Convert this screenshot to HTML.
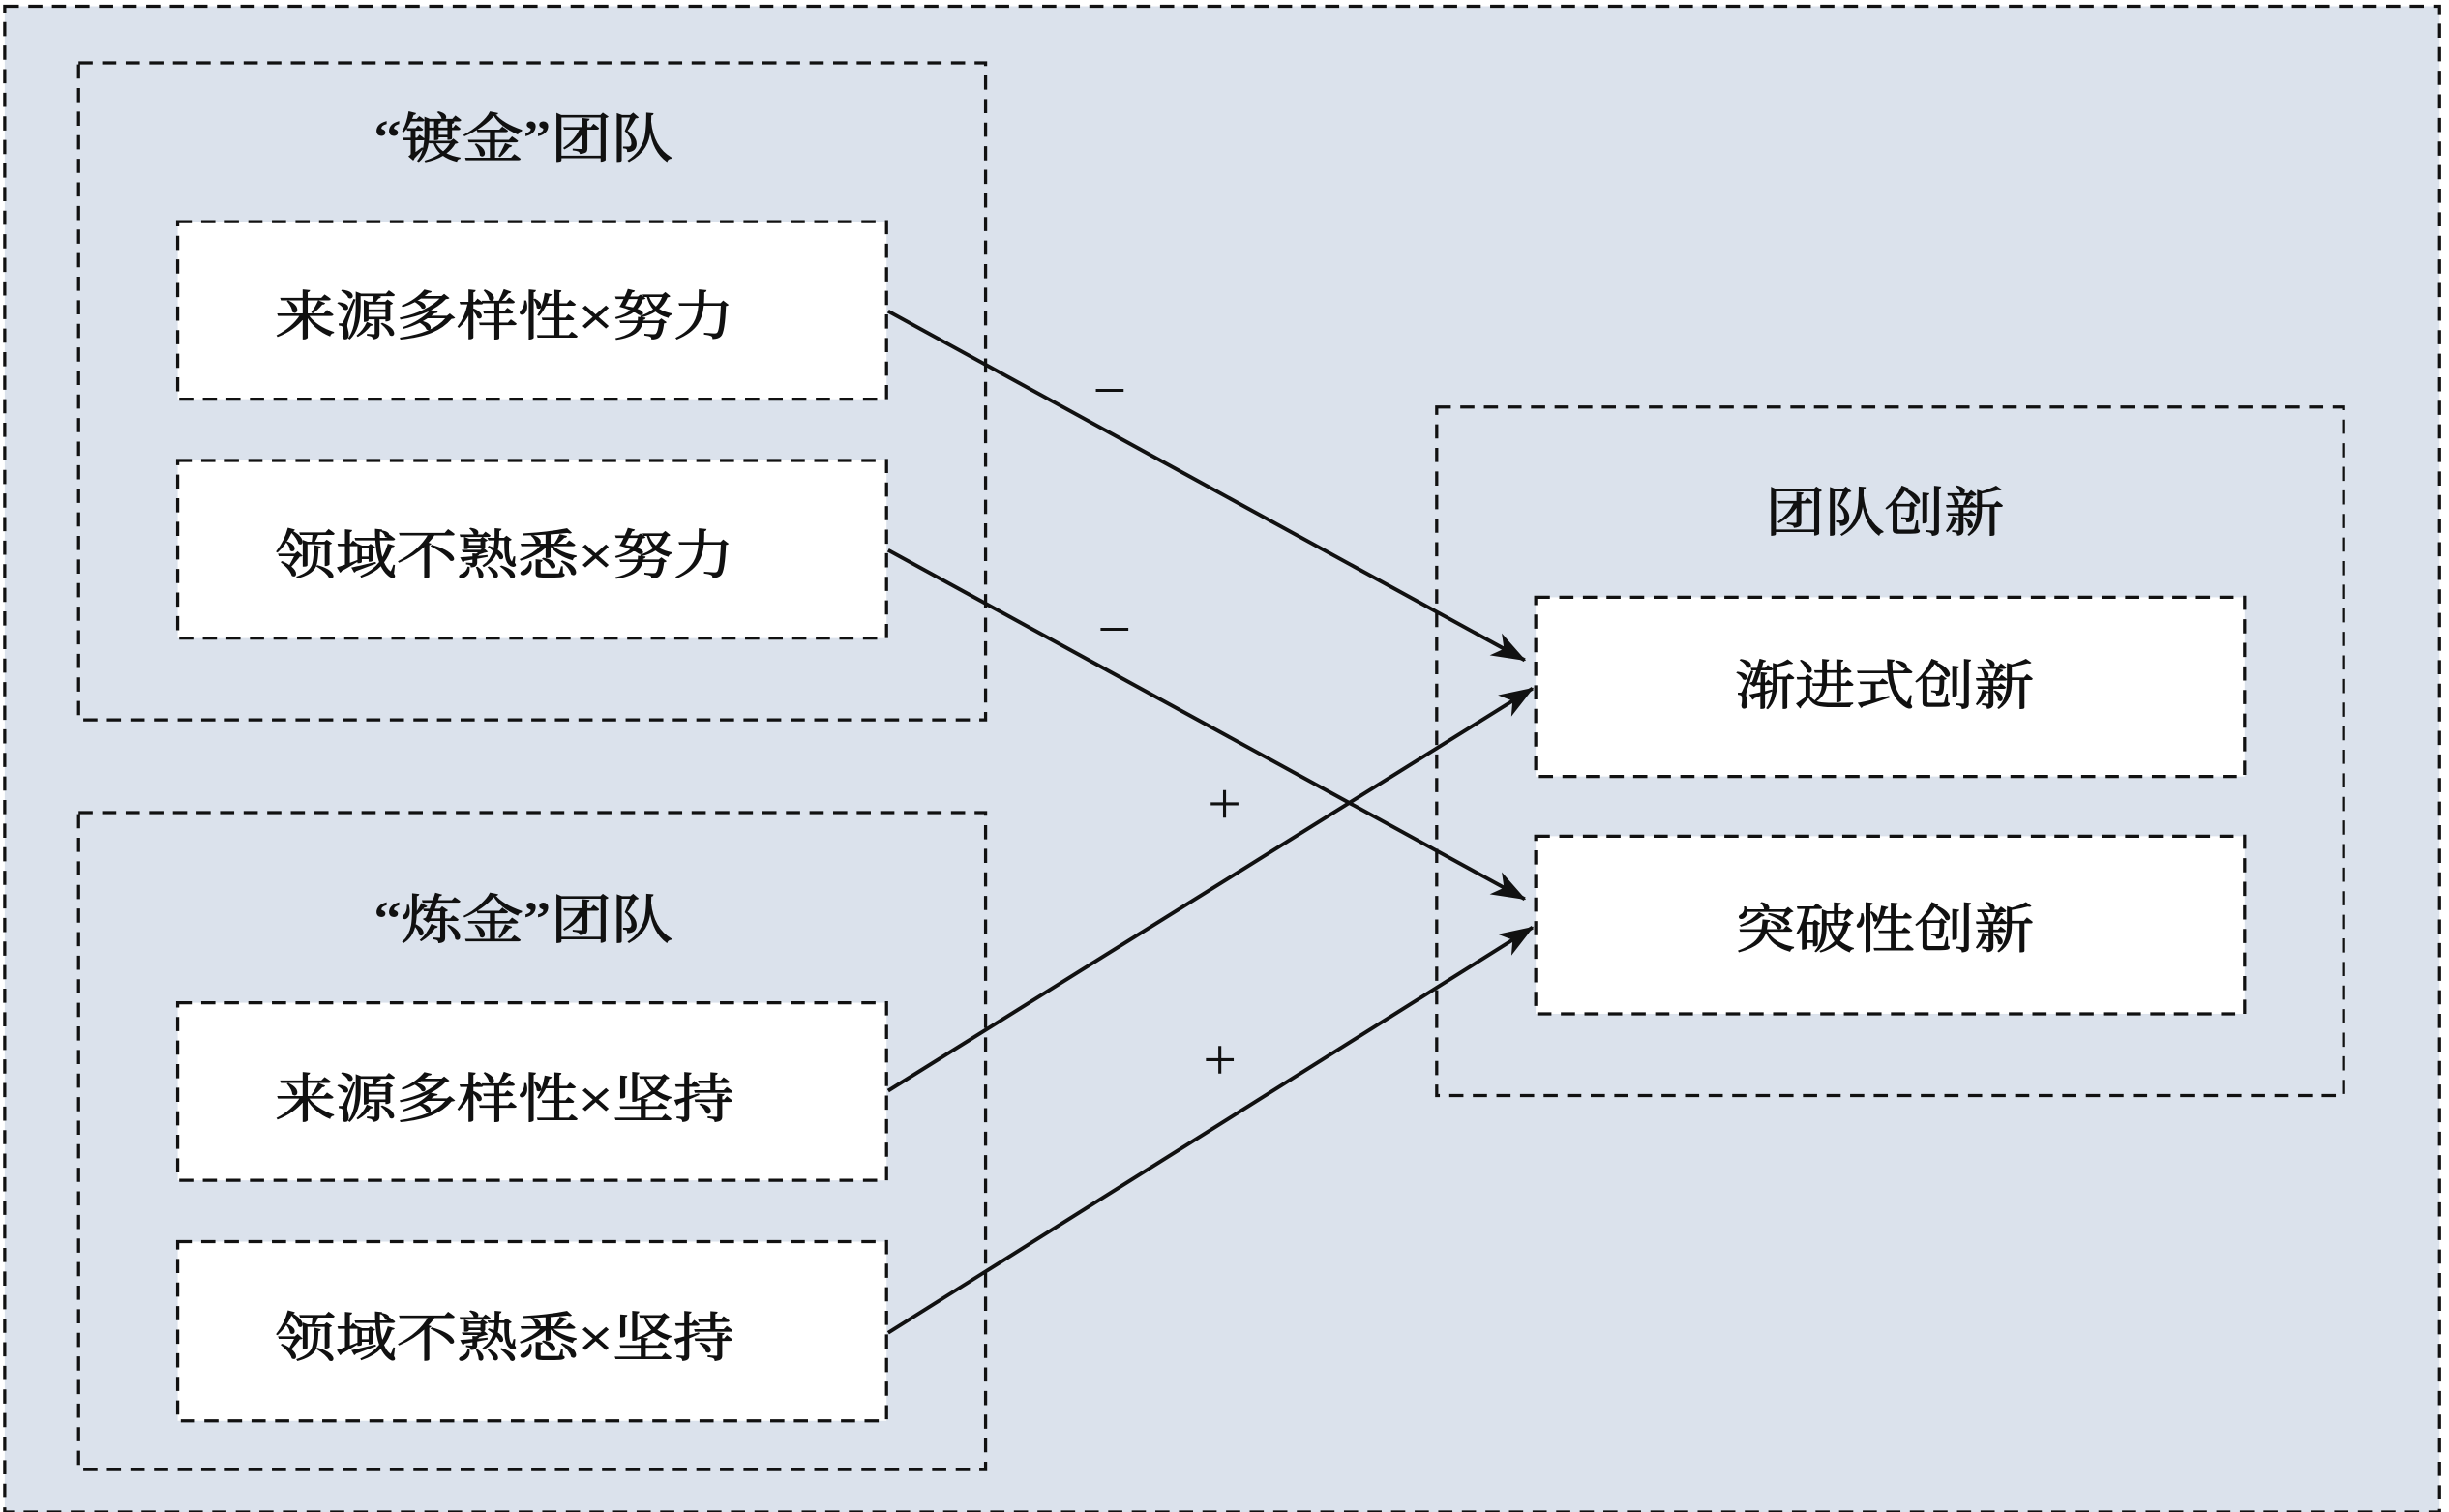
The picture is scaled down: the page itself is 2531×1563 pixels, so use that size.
<!DOCTYPE html>
<html><head><meta charset="utf-8"><style>
html,body{margin:0;padding:0;background:#fff;}
svg{display:block;}
text{font-family:"Liberation Serif","Noto Serif CJK SC",serif;fill:#111;}
</style></head><body>
<svg width="2531" height="1563" viewBox="0 0 1558 962" preserveAspectRatio="none" xmlns="http://www.w3.org/2000/svg">
<defs>
<marker id="ah" viewBox="0 0 22 16" refX="21" refY="8" markerWidth="22" markerHeight="16" markerUnits="userSpaceOnUse" orient="auto">
<path d="M0,0 L22,8 L0,16 L6,8 Z" fill="#111"/>
</marker>
</defs>
<rect x="0" y="0" width="1558" height="962" fill="#fff"/>
<g stroke="#111" stroke-width="2" stroke-dasharray="9,6">
<rect x="3" y="4" width="1549" height="958" fill="#dbe2ec"/>
<rect x="50" y="40" width="577" height="418" fill="none"/>
<rect x="50" y="517" width="577" height="418" fill="none"/>
<rect x="914" y="259" width="577" height="438" fill="none"/>
<rect x="113" y="141" width="451" height="113" fill="#fff"/>
<rect x="113" y="293" width="451" height="113" fill="#fff"/>
<rect x="113" y="638" width="451" height="113" fill="#fff"/>
<rect x="113" y="790" width="451" height="114" fill="#fff"/>
<rect x="977" y="380" width="451" height="114" fill="#fff"/>
<rect x="977" y="532" width="451" height="113" fill="#fff"/>
</g>
<g stroke="#111" stroke-width="2.4" fill="none" marker-end="url(#ah)">
<line x1="565" y1="198" x2="970" y2="420"/>
<line x1="565" y1="350" x2="970" y2="572"/>
<line x1="565" y1="694" x2="975" y2="438"/>
<line x1="565" y1="848" x2="975" y2="590"/>
</g>
<g font-size="34" text-anchor="middle" stroke="#111" stroke-width="0.6">
<text x="333" y="100" textLength="190" lengthAdjust="spacingAndGlyphs">“镀金”团队</text>
<text x="333" y="597" textLength="190" lengthAdjust="spacingAndGlyphs">“炼金”团队</text>
<text x="321" y="213" textLength="292" lengthAdjust="spacingAndGlyphs">来源多样性×努力</text>
<text x="321" y="365" textLength="292" lengthAdjust="spacingAndGlyphs">领域不熟悉×努力</text>
<text x="321" y="711" textLength="292" lengthAdjust="spacingAndGlyphs">来源多样性×坚持</text>
<text x="321" y="863" textLength="292" lengthAdjust="spacingAndGlyphs">领域不熟悉×坚持</text>
<text x="1199" y="338" textLength="152" lengthAdjust="spacingAndGlyphs">团队创新</text>
<text x="1199" y="448" textLength="190" lengthAdjust="spacingAndGlyphs">渐进式创新</text>
<text x="1199" y="603" textLength="190" lengthAdjust="spacingAndGlyphs">突破性创新</text>
</g>
<g font-size="38" text-anchor="middle" font-family="Liberation Sans, sans-serif">
<text x="706" y="261">−</text>
<text x="709" y="413">−</text>
<text x="779" y="524">+</text>
<text x="776" y="687">+</text>
</g>
</svg>
</body></html>
